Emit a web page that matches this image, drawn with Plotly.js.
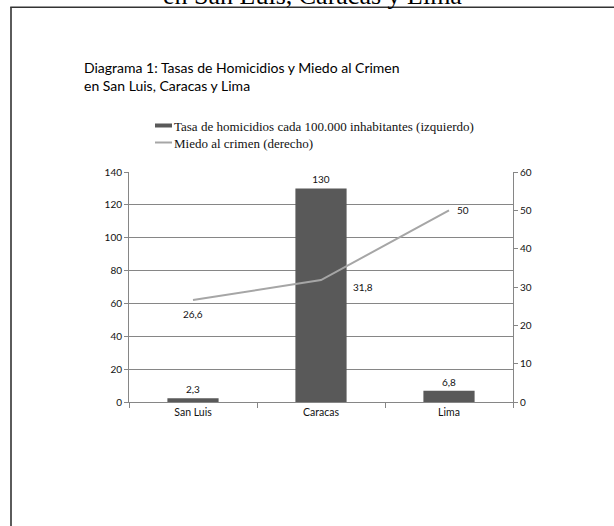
<!DOCTYPE html>
<html><head><meta charset="utf-8">
<script src="https://cdn.plot.ly/plotly-3.0.1.min.js"></script>
<style>html,body{margin:0;padding:0;background:#fff}#chart{width:614px;height:526px}</style>
</head><body><div id="chart"></div>
<script>
const categories = ['San Luis', 'Caracas', 'Lima'];
const homicideRate = [2.3, 130, 6.8];
const fearOfCrime = [26.6, 31.8, 50];
const seriesNames = ['Tasa de homicidios cada 100.000 inhabitantes (izquierdo)', 'Miedo al crimen (derecho)'];
const chartTitle = 'Diagrama 1: Tasas de Homicidios y Miedo al Crimen<br>en San Luis, Caracas y Lima';
const pageHeading = 'en San Luis, Caracas y Lima';

const fmt = v => String(v).replace('.', ',');
const smallFont = {family: 'Lato, Carlito, sans-serif', size: 10, color: '#111'};
const catFont = {family: 'Lato, Carlito, sans-serif', size: 10.5, color: '#111'};

// plot area in pixels: x 129..513, y 172..402
const L = 129, R = 513, T = 172, B = 402;
const W = R - L, H = B - T;
const px = x => (x - L) / W;
const py = y => (B - y) / H;

const traces = [
  {type: 'bar', x: categories, y: homicideRate, name: seriesNames[0],
   marker: {color: '#595959'}, text: homicideRate.map(fmt), textposition: 'outside',
   textfont: smallFont, cliponaxis: false, showlegend: false, hoverinfo: 'x+y'},
  {type: 'scatter', mode: 'lines', x: categories, y: fearOfCrime, yaxis: 'y2', name: seriesNames[1],
   line: {color: '#A6A6A6', width: 2}, showlegend: false}
];

const labelOffsets = [
  {xanchor: 'center', xshift: 0, yshift: -14},
  {xanchor: 'left', xshift: 30, yshift: -7},
  {xanchor: 'left', xshift: 6, yshift: 0}
];

const annotations = fearOfCrime.map((v, i) => ({
  xref: 'x', yref: 'y2', x: categories[i], y: v, text: fmt(v), showarrow: false,
  font: smallFont, xanchor: labelOffsets[i].xanchor, yanchor: 'middle',
  xshift: labelOffsets[i].xshift, yshift: labelOffsets[i].yshift
}));

const serif = 'Liberation Serif, Times New Roman, serif';
// legend built as text
annotations.push({xref: 'paper', yref: 'paper', x: px(171.5), y: py(126), xanchor: 'left', yanchor: 'middle',
  text: seriesNames[0], showarrow: false, font: {family: serif, size: 13, color: '#111'}});
annotations.push({xref: 'paper', yref: 'paper', x: px(171.5), y: py(143), xanchor: 'left', yanchor: 'middle',
  text: seriesNames[1], showarrow: false, font: {family: serif, size: 13, color: '#111'}});
// clipped page heading at top
annotations.push({xref: 'paper', yref: 'paper', x: px(312), y: py(12), xanchor: 'center', yanchor: 'bottom',
  text: pageHeading, showarrow: false, font: {family: serif, size: 26, color: '#000'}});
// chart title
annotations.push({xref: 'paper', yref: 'paper', x: px(82), y: py(57), xanchor: 'left', yanchor: 'top', align: 'left',
  text: chartTitle, showarrow: false, font: {family: 'Lato, Carlito, sans-serif', size: 14, color: '#000'}});

const shapes = [
  {type: 'rect', xref: 'paper', yref: 'paper', x0: px(155), x1: px(172), y0: py(127.5), y1: py(123.5),
   fillcolor: '#595959', line: {width: 0}},
  {type: 'line', xref: 'paper', yref: 'paper', x0: px(155), x1: px(172), y0: py(142.5), y1: py(142.5),
   line: {color: '#A6A6A6', width: 2}},
  {type: 'line', xref: 'paper', yref: 'paper', x0: px(11), x1: px(11), y0: py(7.3), y1: py(540),
   line: {color: '#333', width: 1.6}},
  {type: 'line', xref: 'paper', yref: 'paper', x0: px(10.2), x1: px(620), y0: py(7.3), y1: py(7.3),
   line: {color: '#333', width: 1.6}}
];

const layout = {
  width: 614, height: 526,
  margin: {l: L, r: 614 - R, t: T, b: 526 - B, pad: 0},
  paper_bgcolor: '#fff', plot_bgcolor: '#fff',
  showlegend: false,
  bargap: 0.6,
  xaxis: {type: 'category', showline: true, linecolor: '#868686', linewidth: 1,
    ticks: 'outside', tickson: 'boundaries', ticklen: 5, tickcolor: '#868686',
    tickfont: catFont, showgrid: false, fixedrange: true},
  yaxis: {range: [0, 140], dtick: 20, showline: true, linecolor: '#868686', linewidth: 1,
    ticks: 'outside', ticklen: 4, tickcolor: '#868686', gridcolor: '#868686', gridwidth: 1,
    zeroline: false, tickfont: smallFont, fixedrange: true},
  yaxis2: {range: [0, 60], dtick: 10, overlaying: 'y', side: 'right', showline: true,
    linecolor: '#868686', linewidth: 1, ticks: 'outside', ticklen: 4, tickcolor: '#868686',
    showgrid: false, zeroline: false, tickfont: smallFont, fixedrange: true},
  annotations: annotations,
  shapes: shapes
};

Plotly.newPlot('chart', traces, layout, {displayModeBar: false, staticPlot: true});
</script>
</body></html>
